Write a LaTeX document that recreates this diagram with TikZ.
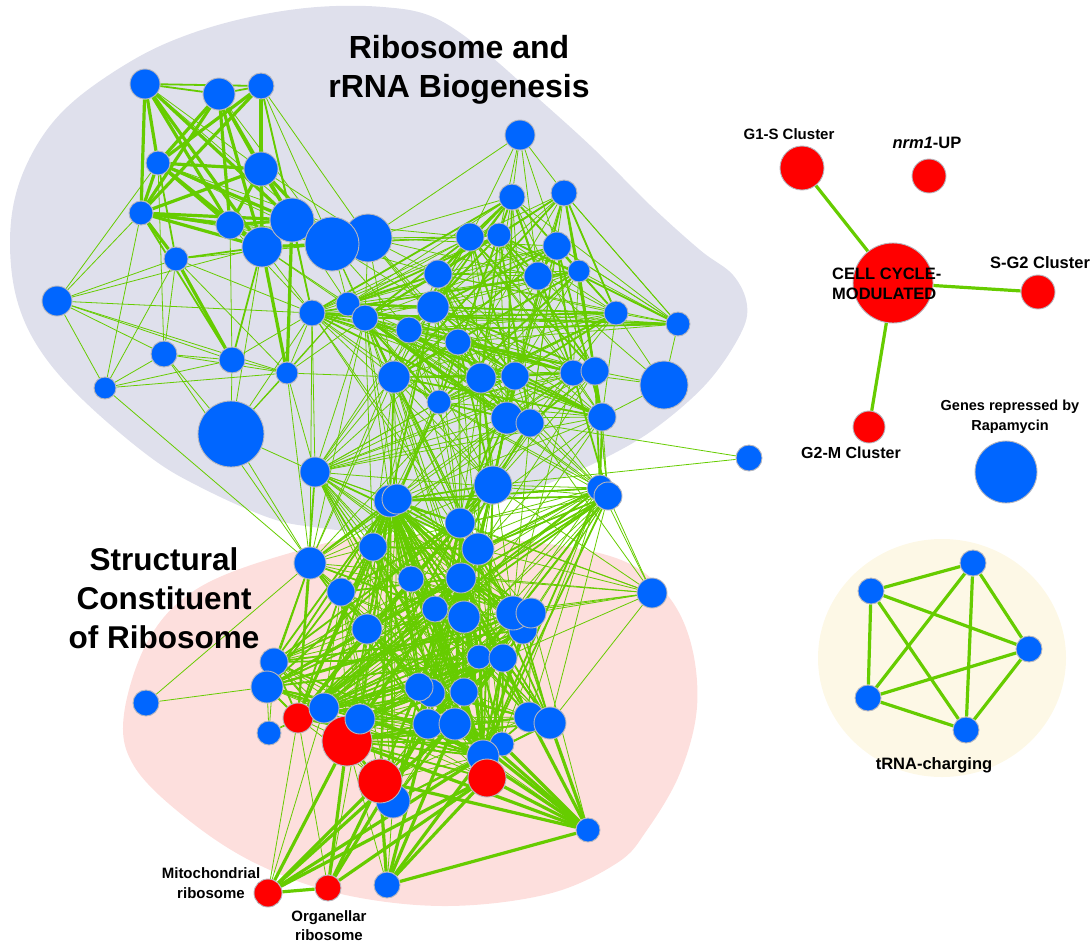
\documentclass[tikz,border=0pt]{standalone}
\usepackage{fontspec}
\setmainfont{Liberation Sans}
\pgfdeclarelayer{blobs}
\pgfdeclarelayer{edges}
\pgfsetlayers{blobs,edges,main}
\definecolor{geneblue}{RGB}{0,102,255}
\definecolor{genered}{RGB}{255,0,0}
\definecolor{ringgray}{RGB}{182,182,190}
\definecolor{edgegreen}{RGB}{102,204,0}
\definecolor{ribobg}{RGB}{223,224,236}
\definecolor{structbg}{RGB}{253,223,221}
\definecolor{trnabg}{RGB}{253,248,230}
\tikzset{
  gene/.style={circle, draw=ringgray, line width=0.9pt, inner sep=0pt},
  link/.style={draw=edgegreen, line width=0.8pt},
  midlink/.style={link, line width=1.8pt},
  heavylink/.style={link, line width=3.2pt},
  lbl/.style={inner sep=0pt, text=black},
}
\begin{document}
\begin{tikzpicture}[x=1pt, y=-1pt]
  \useasboundingbox (0,0) rectangle (1091,945);

  % Clusters
  \begin{pgfonlayer}{blobs}
    \fill[ribobg] plot[smooth cycle, tension=0.6] coordinates {(10,243) (17,190) (40,140) (75,100) (133,60) (187,35) (250,17) (317,7) (383,7) (433,17) (483,50) (540,100) (595,150) (650,205) (700,250) (733,275) (747,305) (740,335) (707,383) (657,427) (607,457) (540,487) (450,520) (380,532) (313,527) (267,517) (200,487) (150,457) (83,400) (40,350) (17,300)};
    \fill[structbg] plot[smooth cycle, tension=0.6] coordinates {(124,714) (134,766) (186,818) (255,863) (341,894) (445,906) (548,894) (617,863) (647,830) (680,773) (697,707) (690,640) (663,590) (613,557) (513,540) (380,535) (290,553) (200,587) (150,637)};
    \fill[trnabg] (942,658) circle[x radius=124pt, y radius=119pt];
  \end{pgfonlayer}

  % Genes
  \foreach \n/\x/\y/\r/\c in {1/145/84/15/geneblue, 2/219/94/16/geneblue, 3/261/86/13/geneblue,
      4/158/163/12/geneblue, 5/261/169/17/geneblue, 6/141/213/12/geneblue, 7/230/225/14/geneblue,
      9/262/247/20/geneblue, 8/292/220/22/geneblue, 10/176/259/12/geneblue, 12/368/238/24/geneblue,
      11/332/244/27/geneblue, 13/57/301/15/geneblue, 14/164/354/13/geneblue, 15/232/360/13/geneblue,
      16/105/388/11/geneblue, 17/287/373/11/geneblue, 18/231/434/33/geneblue,
      19/520/135/15/geneblue, 20/512/197/13/geneblue, 21/564/193/13/geneblue, 22/470/237/14/geneblue,
      23/499/235/12/geneblue, 24/557/246/14/geneblue, 25/438/274/14/geneblue, 26/538/276/14/geneblue,
      27/579/271/11/geneblue, 28/312/313/13/geneblue, 29/348/304/12/geneblue, 30/365/318/13/geneblue,
      31/433/307/16/geneblue, 32/409/330/13/geneblue, 33/458/342/13/geneblue, 34/616/313/12/geneblue,
      35/678/324/12/geneblue, 36/394/377/16/geneblue, 37/439/402/12/geneblue, 38/481/378/15/geneblue,
      39/515/376/14/geneblue, 40/573/373/13/geneblue, 41/595/371/14/geneblue, 42/664/385/24/geneblue,
      43/507/418/16/geneblue, 44/530/423/14/geneblue, 45/602/417/14/geneblue, 46/749/458/13/geneblue,
      47/315/472/15/geneblue, 48/390/501/16/geneblue, 49/397/499/15/geneblue, 50/493/485/19/geneblue,
      51/600/488/13/geneblue, 52/608/496/14/geneblue, 53/460/523/15/geneblue, 54/373/547/14/geneblue,
      55/478/549/16/geneblue, 56/310/563/16/geneblue, 57/411/579/13/geneblue, 58/461/578/15/geneblue,
      59/341/592/14/geneblue, 60/435/609/13/geneblue, 61/464/617/16/geneblue, 63/523/630/14/geneblue,
      62/513/613/17/geneblue, 64/531/613/15/geneblue, 65/652/593/15/geneblue, 66/367/629/15/geneblue,
      67/479/657/12/geneblue, 68/503/658/14/geneblue, 69/274/662/14/geneblue, 70/267/687/16/geneblue,
      71/146/703/13/geneblue, 73/431/693/14/geneblue, 72/419/687/14/geneblue, 74/464/692/14/geneblue,
      75/298/718/15/genered, 76/324/708/15/geneblue, 78/347/741/25/genered, 77/360/719/15/geneblue,
      79/269/733/12/geneblue, 80/428/724/15/geneblue, 81/455/724/16/geneblue, 82/529/717/15/geneblue,
      83/550/723/16/geneblue, 84/502/744/12/geneblue, 85/483/756/16/geneblue, 86/487/778/19/genered,
      87/393/801/17/geneblue, 88/380/781/22/genered, 89/588/830/12/geneblue, 90/268/893/14/genered,
      91/328/888/13/genered, 92/387/885/13/geneblue}
    \node[gene, fill=\c, minimum size=2*\r] (n\n) at (\x,\y) {};

  % Cell cycle side
  \node[gene, fill=genered, minimum size=80] (cc) at (893,283) {};
  \node[gene, fill=genered, minimum size=44] (gones) at (802,168) {};
  \node[gene, fill=genered, minimum size=34] (nrm) at (929,176) {};
  \node[gene, fill=genered, minimum size=34] (sgtwo) at (1038,292) {};
  \node[gene, fill=genered, minimum size=32] (gtwom) at (869,427) {};
  \node[gene, fill=geneblue, minimum size=62] (rapa) at (1006,472) {};

  % tRNA
  \node[gene, fill=geneblue, minimum size=26] (t1) at (871,591) {};
  \node[gene, fill=geneblue, minimum size=26] (t2) at (973,563) {};
  \node[gene, fill=geneblue, minimum size=26] (t3) at (1029,649) {};
  \node[gene, fill=geneblue, minimum size=26] (t4) at (868,698) {};
  \node[gene, fill=geneblue, minimum size=26] (t5) at (966,730) {};

  % Labels
  \node[lbl, font={\bfseries\fontsize{32}{39}\selectfont}, align=center] (lbl-ribo) at (459,70) {Ribosome and\\rRNA Biogenesis};
  \node[lbl, font={\bfseries\fontsize{31.5}{39}\selectfont}, align=center] (lbl-struct) at (164,598) {Structural\\Constituent\\of Ribosome};
  \node[lbl, font={\bfseries\fontsize{15}{19}\selectfont}, anchor=base] (lbl-gones) at (789,139) {G1-S Cluster};
  \node[lbl, font={\bfseries\fontsize{16.5}{19}\selectfont}, anchor=base] (lbl-nrm) at (927,148) {\textit{nrm1}-UP};
  \node[lbl, font={\bfseries\fontsize{16.5}{19}\selectfont}, anchor=base] (lbl-sgtwo) at (1040,268) {S-G2 Cluster};
  \node[lbl, font={\bfseries\fontsize{16.5}{20}\selectfont}, align=left, anchor=west] (lbl-cc) at (832,284) {CELL CYCLE-\\MODULATED};
  \node[lbl, font={\bfseries\fontsize{16}{19}\selectfont}, anchor=base] (lbl-gtwom) at (851,458) {G2-M Cluster};
  \node[lbl, font={\bfseries\fontsize{14.5}{20}\selectfont}, align=center] (lbl-rapa) at (1010,417) {Genes repressed by\\Rapamycin};
  \node[lbl, font={\bfseries\fontsize{16.5}{19}\selectfont}, anchor=base] (lbl-trna) at (934,769) {tRNA-charging};
  \node[lbl, font={\bfseries\fontsize{15}{20}\selectfont}, align=center] (lbl-mito) at (211,883) {Mitochondrial\\ribosome};
  \node[lbl, font={\bfseries\fontsize{15}{19}\selectfont}, align=center] (lbl-organ) at (329,926) {Organellar\\ribosome};

  % Edges
  \begin{pgfonlayer}{edges}
    % top left group
    \foreach \a/\b in {1/4,1/6,1/7,1/9,1/8,2/4,2/6,2/7,2/9,2/8,2/5,3/4,3/6,3/5,3/9,4/5,4/6,4/7,4/9,4/8,
        5/6,5/9,5/8,6/7,6/9,6/8,7/8,7/9,6/10,10/15,9/17,8/17,5/11,9/11,5/7}
      \draw[heavylink] (n\a) -- (n\b);
    \foreach \a/\b in {1/2,2/3,1/3,4/10,10/9,6/15,3/8,9/15,8/28}
      \draw[midlink] (n\a) -- (n\b);
    \foreach \a/\b in {1/11,2/11,3/11,3/12,4/11,6/11,7/11,6/12,10/11,10/17,1/5,3/28,4/12,13/6,13/4,13/10,
        13/14,13/15,13/16,13/17,13/28,13/9,16/14,16/15,16/10,16/17,16/56,16/6,14/10,14/15,14/18,14/17,
        14/56,14/4,15/18,15/7,15/17,15/28,18/9,18/56,18/47,18/17,18/28,18/29,17/28,17/29,17/30,17/36,
        17/47,17/56,11/22,11/25,11/31,11/23,11/29,11/30,11/32,11/36,12/22,12/20,12/25,12/31,12/33,
        12/36,12/38,12/30,12/24,12/26,12/19,8/29,9/29,8/22,9/30,7/12,5/12,8/12,9/28,10/28,7/28}
      \draw[link] (n\a) -- (n\b);
    % upper core
    \foreach \i in {20,21,22,23,24,25,26,27,28,29,30,31,32,33,34,35,36,37,38,39,40,41,43,44,45}{
      \foreach \j in {20,21,22,23,24,25,26,27,28,29,30,31,32,33,34,35,36,37,38,39,40,41,43,44,45}{
        \ifnum\i<\j
          \pgfmathtruncatemacro\k{mod(\i*\j+3*\i+\j,9)}
          \ifnum\k<6 \draw[link] (n\i) -- (n\j); \fi
          \ifnum\k<2 \draw[midlink] (n\i) -- (n\j); \fi
        \fi
      }
    }
    % lower core
    \foreach \i in {47,48,49,50,51,52,53,54,55,56,57,58,59,60,61,62,63,64,66,67,68,69,70,72,73,74,75,76,77,78,80,81,82,83,84,85,86,87,88}{
      \foreach \j in {47,48,49,50,51,52,53,54,55,56,57,58,59,60,61,62,63,64,66,67,68,69,70,72,73,74,75,76,77,78,80,81,82,83,84,85,86,87,88}{
        \ifnum\i<\j
          \pgfmathtruncatemacro\k{mod(\i*\j+5*\i+2*\j,10)}
          \ifnum\k<4 \draw[link] (n\i) -- (n\j); \fi
          \ifnum\k=0 \draw[midlink] (n\i) -- (n\j); \fi
        \fi
      }
    }
    % between the cores
    \foreach \i in {28,30,31,32,33,36,37,38,39,40,41,43,44,45}{
      \foreach \j in {47,48,49,50,51,52,53,54,55,56,58,61,62}{
        \pgfmathtruncatemacro\k{mod(\i*\j+\i,6)}
        \ifnum\k<2 \draw[link] (n\i) -- (n\j); \fi
      }
    }
    \foreach \a/\b in {36/48,38/50,39/50,43/50,44/50,43/53,37/49,31/48,33/50,40/52,45/51,41/51,39/53,38/55,43/55}
      \draw[midlink] (n\a) -- (n\b);
    % outer genes
    \foreach \a/\b in {19/20,19/21,19/23,19/24,19/22,19/26,42/34,42/40,42/41,42/45,42/26,42/35,35/21,35/27,
        35/24,34/21,46/44,46/50,65/50,65/52,65/53,65/55,65/58,65/61,65/62,65/64,65/56,65/83,65/68,
        65/47,65/44,65/51,52/45,52/41,52/44,71/70,71/56,79/75,79/70,79/76,79/69,89/62,89/64,89/85,
        90/75,90/76,91/75,91/77,92/87,92/78}
      \draw[link] (n\a) -- (n\b);
    \foreach \a/\b in {89/83,89/82,89/86,89/84,89/81,89/80,89/73,89/78,89/88,89/92,90/91,90/78,90/88,
        90/86,90/85,90/81,91/78,91/88,91/86,91/80,92/86,92/88,92/85,92/80,92/81}
      \draw[heavylink] (n\a) -- (n\b);
    % cell cycle and tRNA
    \draw[heavylink] (cc) -- (gones);
    \draw[heavylink] (cc) -- (sgtwo);
    \draw[heavylink] (cc) -- (gtwom);
    \foreach \a/\b in {t1/t2,t1/t3,t1/t4,t1/t5,t2/t3,t2/t4,t2/t5,t3/t4,t3/t5,t4/t5}
      \draw[heavylink] (\a) -- (\b);
  \end{pgfonlayer}
\end{tikzpicture}
\end{document}
